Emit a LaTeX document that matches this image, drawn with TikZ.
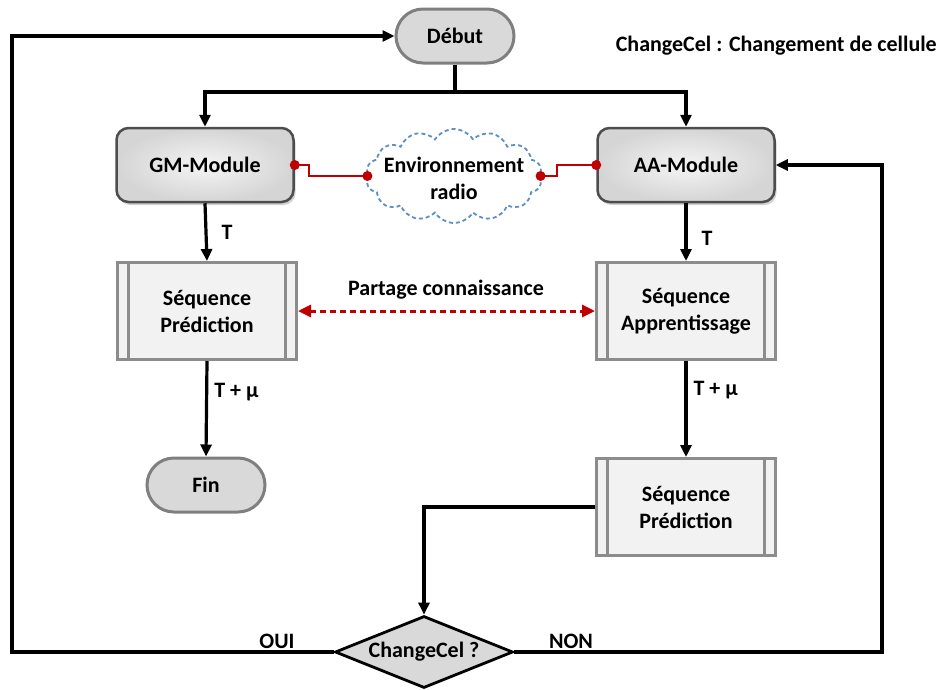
\documentclass[tikz,border=0pt]{standalone}
\usepackage{fontspec}
\setmainfont{Carlito}
\usetikzlibrary{arrows.meta,shapes.geometric,shapes.symbols,shadows,calc}
\definecolor{termfill}{HTML}{D9D9D9}
\definecolor{termdraw}{HTML}{7F7F7F}
\definecolor{modfill}{HTML}{E4E4E4}
\definecolor{moddraw}{HTML}{4D4D4D}
\definecolor{procfill}{HTML}{F2F2F2}
\definecolor{procdraw}{HTML}{8C8C8C}
\definecolor{linkred}{HTML}{C00000}
\definecolor{cloudblue}{HTML}{5B8FC7}
\tikzset{
  txt/.style={font=\fontsize{22}{27}\selectfont\bfseries, align=center},
  terminal/.style={txt, draw=termdraw, fill=termfill, line width=3pt, rounded corners=27pt,
    minimum width=118pt, minimum height=54pt, inner sep=0pt},
  module/.style={txt, draw=moddraw, line width=2.5pt, rounded corners=12pt,
    inner color=white!92!gray, outer color=modfill!85!gray,
    minimum width=177pt, minimum height=74pt, inner sep=0pt,
    drop shadow={shadow xshift=2pt, shadow yshift=-3pt, fill=black!35}},
  process/.style={txt, draw=procdraw, fill=procfill, line width=3pt,
    minimum width=179pt, minimum height=97pt, inner sep=0pt,
    path picture={
      \draw[procdraw, line width=3pt]
        ([xshift=11pt]path picture bounding box.north west) -- ([xshift=11pt]path picture bounding box.south west)
        ([xshift=-11pt]path picture bounding box.north east) -- ([xshift=-11pt]path picture bounding box.south east);
    }},
  decision/.style={txt, shape=diamond, draw=black, fill=termfill, line width=2.8pt,
    shape aspect=2.5, minimum width=178pt, minimum height=72pt, inner sep=0pt},
  cloudbox/.style={shape=cloud, draw=cloudblue, fill=white, line width=1.8pt,
    dash pattern=on 4pt off 3pt, cloud puffs=14, cloud puff arc=115, cloud ignores aspect,
    minimum width=176pt, minimum height=94pt, inner sep=0pt},
  lbl/.style={txt, inner sep=0pt},
  conn/.style={draw=black, line width=3.2pt, -{Triangle[length=12pt,width=11pt]}},
  plain/.style={draw=black, line width=3.2pt},
  redlink/.style={draw=linkred, line width=2.8pt},
  reddot/.style={circle, fill=linkred, minimum size=10pt, inner sep=0pt},
}
\begin{document}
\begin{tikzpicture}[x=1pt,y=-1pt]
\useasboundingbox (0,0) rectangle (942,689);

% nodes
\node[terminal] (debut) at (455,36) {Début};
\node[module] (gm) at (205,165) {GM-Module};
\node[module] (aa) at (686,165) {AA-Module};
\node[cloudbox] (cloud) at (454,176) {};
\node[lbl] (cloudtxt) at (454,178) {Environnement\\radio};
\node[process] (seqp1) at (207,311) {Séquence\\Prédiction};
\node[process] (seqa) at (686,311) {Séquence\\Apprentissage};
\node[terminal] (fin) at (206,485) {Fin};
\node[process] (seqp2) at (686,507) {Séquence\\Prédiction};
\node[decision] (dec) at (424,652) {ChangeCel ?};

\node[lbl, anchor=east] (legend) at (937,46) {ChangeCel : Changement de cellule};

% helper coordinates
\coordinate (split) at (455,92);
\coordinate (loopL) at (12,0);
\coordinate (loopR) at (882,0);
\coordinate (jl) at (309,0);
\coordinate (jr) at (557,0);

% top split
\draw[plain] (debut.south) -- (split);
\draw[conn] (split) -| (gm.north);
\draw[conn] (split) -| (aa.north);

% vertical flows
\draw[conn] (gm.south) -- (seqp1.north) node[lbl, midway, right=14pt] (t1) {T};
\draw[conn] (aa.south) -- (seqa.north) node[lbl, pos=0.6, right=14pt] (t2) {T};
\draw[conn] (seqp1.south) -- (fin.north) node[lbl, pos=0.33, right=6pt] (tm1) {T + μ};
\draw[conn] (seqa.south) -- (seqp2.north) node[lbl, pos=0.3, right=6pt] (tm2) {T + μ};

% to decision
\draw[conn] (seqp2.west) -| (dec.north);

% loops
\draw[conn] (dec.west) -- (dec.west -| loopL) |- (debut.west);
\draw[conn] (dec.east) -- (dec.east -| loopR) |- (aa.east);
\node[lbl] (oui) at (277,641) {OUI};
\node[lbl] (non) at (571,641) {NON};

% red links with the radio environment
\draw[redlink] (gm.east) -- (gm.east -| jl) |- (cloud.west);
\draw[redlink] (cloud.east) -- (cloud.east -| jr) |- (aa.west);
\node[reddot] at (gm.east) {};
\node[reddot] at (cloud.west) {};
\node[reddot] at (cloud.east) {};
\node[reddot] at (aa.west) {};

% knowledge sharing
\draw[linkred, line width=3pt, dash pattern=on 6pt off 4pt,
  {Triangle[length=13pt,width=12pt]}-{Triangle[length=13pt,width=12pt]}]
  (seqp1.east) -- (seqa.west);
\node[lbl] (share) at (446,290) {Partage connaissance};
\end{tikzpicture}
\end{document}
